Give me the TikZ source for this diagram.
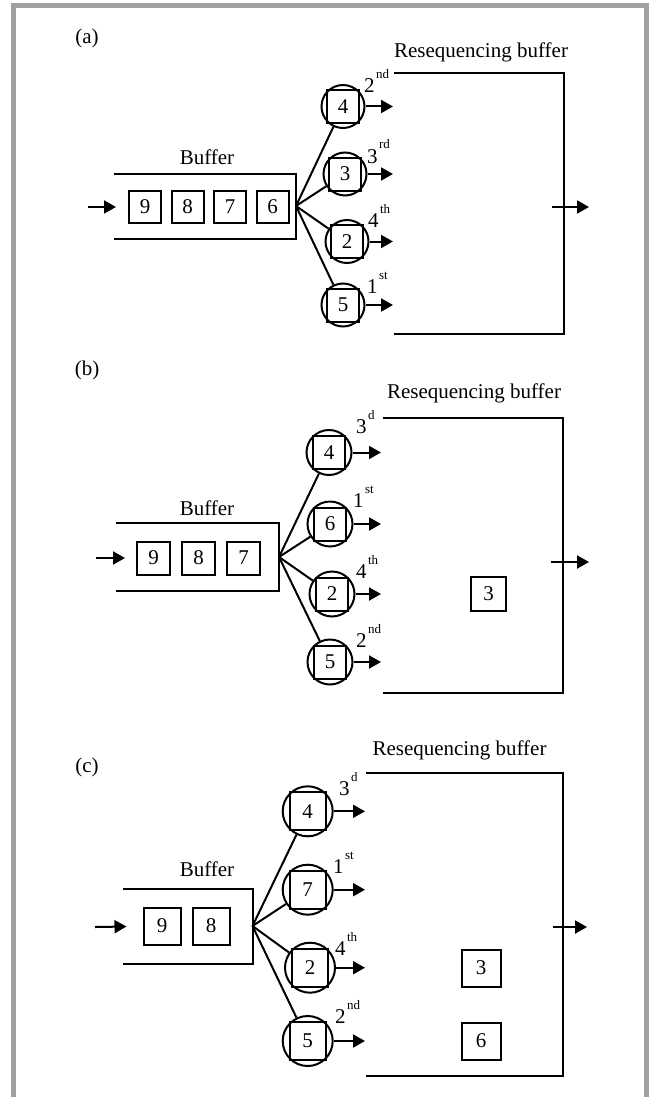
\documentclass[tikz,border=0pt]{standalone}
\usepackage{fontspec}
\setmainfont{Liberation Serif}
\usetikzlibrary{arrows.meta, positioning}

\definecolor{framegray}{RGB}{160,160,160}
\newcommand{\ordl}[2]{#1\kern1.5pt\raisebox{14pt}{\fontsize{13}{13}\selectfont #2}}

\begin{document}
\begin{tikzpicture}[
    x=1pt, y=-1pt,
    line width=2pt,
    every node/.style={font=\fontsize{21}{24}\selectfont},
    job/.style={rectangle, draw, minimum width=32pt, minimum height=33pt, inner sep=0pt},
    server/.style={circle, draw, minimum size=43pt, inner sep=0pt},
    ordinal/.style={anchor=base west, inner sep=0pt},
    flow/.style={-{Triangle[length=12pt,width=13pt]}},
]
\useasboundingbox (0,0) rectangle (651,1097);

% Frame
\draw[framegray, line width=5pt] (13.5,1097) -- (13.5,6) -- (646,6) -- (646,1097);

% ---------------- Panel (a) ----------------
\node at (87,38) {(a)};
\node at (481,52) {Resequencing buffer};
\node at (207,157) {Buffer};

% Buffer
\coordinate (bufAtl) at (114,173.5);
\coordinate (bufAbr) at (296,238.5);
\coordinate (fanA) at (296,206);
\draw (bufAtl) -| (bufAbr) -- (bufAtl |- bufAbr);
\node[job, minimum height=32pt] (a9) at (145,207) {9};
\node[job, minimum height=32pt, right=8.5pt of a9] (a8) {8};
\node[job, minimum height=32pt, right=8.5pt of a8] (a7) {7};
\node[job, minimum height=32pt, right=8.5pt of a7] (a6) {6};
\coordinate (inA) at (88,207);
\draw[flow, shorten >=12pt] (inA) -- (a9);

% Servers
\node[server] (sa1) at (343,106.5) {};
\node[job] (a4) at (sa1) {4};
\node[server] (sa2) at (345,174) {};
\node[job] (a3) at (sa2) {3};
\node[server] (sa3) at (347,241.5) {};
\node[job] (a2) at (sa3) {2};
\node[server] (sa4) at (343,305) {};
\node[job] (a5) at (sa4) {5};
\node[ordinal] at (363,93) {\ordl{2}{nd}};
\node[ordinal] at (366,163) {\ordl{3}{rd}};
\node[ordinal] at (367,227) {\ordl{4}{th}};
\node[ordinal] at (366,293) {\ordl{1}{st}};

% Resequencing buffer
\coordinate (resAtl) at (394,73.5);
\coordinate (resAbr) at (564,334);
\draw (resAtl) -| (resAbr) -- (resAtl |- resAbr);
\coordinate (outA) at (552,207);
\coordinate (outAend) at (589,207);
\draw[flow] (outA) -- (outAend);

% Arrows
\coordinate (endA) at (393,0);
\foreach \s in {sa1,sa2,sa3,sa4} {
  \draw (fanA) -- (\s);
  \draw[flow] (\s) -- (\s -| endA);
}

% ---------------- Panel (b) ----------------
\node at (87,370) {(b)};
\node at (474,393) {Resequencing buffer};
\node at (207,508) {Buffer};

% Buffer
\coordinate (bufBtl) at (116,522.5);
\coordinate (bufBbr) at (279,591);
\coordinate (fanB) at (279,557);
\draw (bufBtl) -| (bufBbr) -- (bufBtl |- bufBbr);
\node[job, minimum width=33pt] (b9) at (153.5,558) {9};
\node[job, minimum width=33pt, right=10pt of b9] (b8) {8};
\node[job, minimum width=33pt, right=10pt of b8] (b7) {7};
\coordinate (inB) at (96,558);
\draw[flow, shorten >=11pt] (inB) -- (b9);

% Servers
\node[server, minimum size=45pt] (sb1) at (329,452.5) {};
\node[job] (b4) at (sb1) {4};
\node[server, minimum size=45pt] (sb2) at (330,524) {};
\node[job] (b6) at (sb2) {6};
\node[server, minimum size=45pt] (sb3) at (332,594) {};
\node[job] (b2) at (sb3) {2};
\node[server, minimum size=45pt] (sb4) at (330,662) {};
\node[job] (b5) at (sb4) {5};
\node[ordinal] at (355,433) {\ordl{3}{d}};
\node[ordinal] at (352,507) {\ordl{1}{st}};
\node[ordinal] at (355,578) {\ordl{4}{th}};
\node[ordinal] at (355,647) {\ordl{2}{nd}};

% Resequencing buffer
\coordinate (resBtl) at (383,417.5);
\coordinate (resBbr) at (563,693);
\draw (resBtl) -| (resBbr) -- (resBtl |- resBbr);
\node[job, minimum width=35pt, minimum height=34pt] (rb3) at (488.5,593.5) {3};
\coordinate (outB) at (551,562);
\coordinate (outBend) at (589,562);
\draw[flow] (outB) -- (outBend);

% Arrows
\coordinate (endB) at (381,0);
\foreach \s in {sb1,sb2,sb3,sb4} {
  \draw (fanB) -- (\s);
  \draw[flow] (\s) -- (\s -| endB);
}

% ---------------- Panel (c) ----------------
\node at (87,767) {(c)};
\node at (459.5,750) {Resequencing buffer};
\node at (207,869) {Buffer};

% Buffer
\coordinate (bufCtl) at (123,888.5);
\coordinate (bufCbr) at (252.5,963.5);
\coordinate (fanC) at (252.5,926);
\draw (bufCtl) -| (bufCbr) -- (bufCtl |- bufCbr);
\node[job, minimum width=37pt, minimum height=37pt] (c9) at (162,926) {9};
\node[job, minimum width=37pt, minimum height=37pt, right=10pt of c9] (c8) {8};
\coordinate (inC) at (95,927);
\draw[flow, shorten >=16pt] (inC) -- (c9);

% Servers
\node[server, minimum size=50pt] (sc1) at (307.7,811.3) {};
\node[job, minimum width=36pt, minimum height=38pt] (c4) at (sc1) {4};
\node[server, minimum size=50pt] (sc2) at (307.7,889.7) {};
\node[job, minimum width=36pt, minimum height=38pt] (c7) at (sc2) {7};
\node[server, minimum size=50pt] (sc3) at (310,967.7) {};
\node[job, minimum width=36pt, minimum height=38pt] (c2) at (sc3) {2};
\node[server, minimum size=50pt] (sc4) at (307.7,1041) {};
\node[job, minimum width=36pt, minimum height=38pt] (c5) at (sc4) {5};
\node[ordinal] at (338,795) {\ordl{3}{d}};
\node[ordinal] at (332,873) {\ordl{1}{st}};
\node[ordinal] at (334,955) {\ordl{4}{th}};
\node[ordinal] at (334,1023) {\ordl{2}{nd}};

% Resequencing buffer
\coordinate (resCtl) at (366,773);
\coordinate (resCbr) at (562.5,1076);
\draw (resCtl) -| (resCbr) -- (resCtl |- resCbr);
\node[job, minimum width=39pt, minimum height=37pt] (rc3) at (481,968) {3};
\node[job, minimum width=39pt, minimum height=37pt] (rc6) at (481,1041) {6};
\coordinate (outC) at (553,927);
\coordinate (outCend) at (587,927);
\draw[flow] (outC) -- (outCend);

% Arrows
\coordinate (endC) at (365,0);
\foreach \s in {sc1,sc2,sc3,sc4} {
  \draw (fanC) -- (\s);
  \draw[flow] (\s) -- (\s -| endC);
}

\end{tikzpicture}
\end{document}
